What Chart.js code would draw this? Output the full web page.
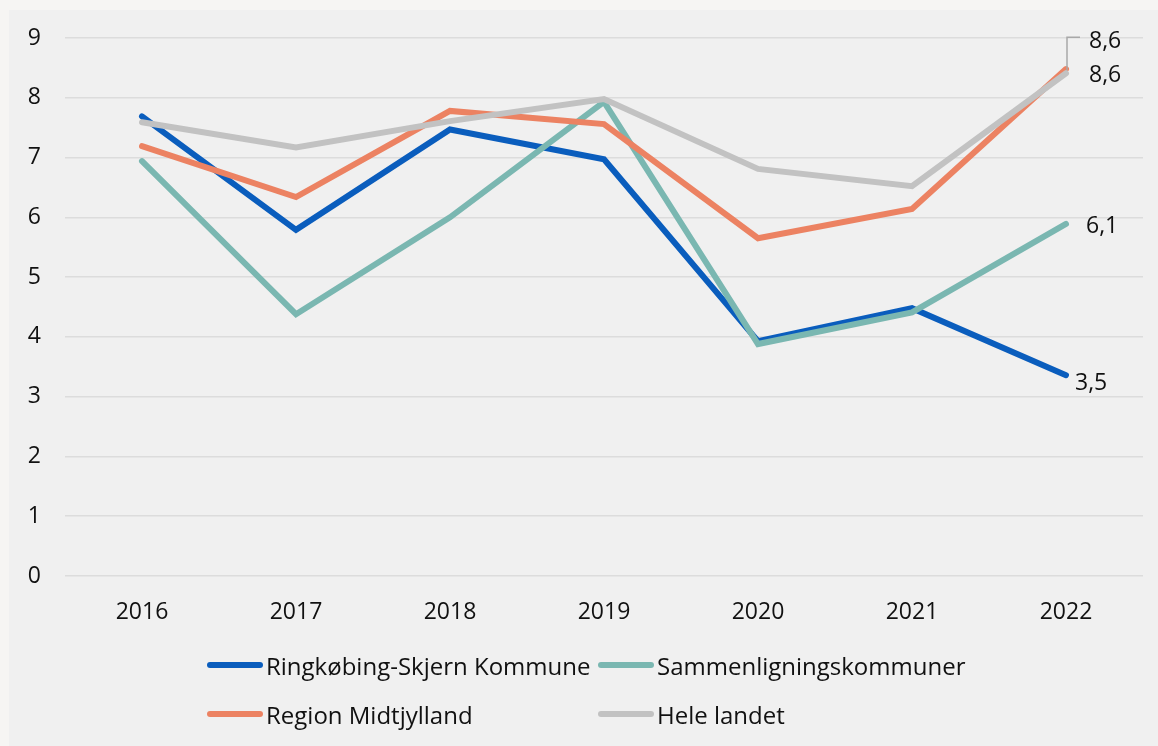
<!DOCTYPE html>
<html>
<head>
<meta charset="utf-8">
<script src="https://cdn.jsdelivr.net/npm/chart.js@4"></script>
<style>
  html, body { margin: 0; padding: 0; background: #f6f5f3; }
  body { width: 1158px; height: 746px; position: relative; overflow: hidden; font-family: "Open Sans", sans-serif; }
  #panel { position: absolute; left: 9px; top: 10px; right: 0; bottom: 0; background: #f0f0f0; }
  #wrap { position: absolute; left: 0; top: 0; width: 1158px; height: 640px; }
  #legend { position: absolute; left: 0; top: 0; width: 1158px; height: 746px; pointer-events: none; }
  .item { position: absolute; display: flex; align-items: center; height: 30px; font-size: 24px; color: #111; white-space: nowrap; }
  .swatch { width: 56px; height: 6px; border-radius: 3px; margin-right: 3px; }
</style>
</head>
<body>
<div id="panel"></div>
<div id="wrap"><canvas id="chart"></canvas></div>
<div id="legend"></div>
<script>
// data
const years = ['2016', '2017', '2018', '2019', '2020', '2021', '2022'];
const ringkobing = [7.69, 5.79, 7.47, 6.97, 3.93, 4.48, 3.36];
const sammenligning = [6.94, 4.38, 6.0, 7.93, 3.88, 4.41, 5.89];
const midtjylland = [7.19, 6.34, 7.78, 7.56, 5.65, 6.14, 8.48];
const heleLandet = [7.59, 7.17, 7.61, 7.98, 6.81, 6.52, 8.41];
const endLabels = ['3,5', '6,1', '8,6', '8,6'];
const yTicks = [0, 1, 2, 3, 4, 5, 6, 7, 8, 9];

const colors = ['#0a5dbd', '#7ab7b1', '#ec8262', '#c2c2c2'];

// where each end label sits relative to its last point
const labelOffsets = [
    { dx: 9, dy: 8 },
    { dx: 20, dy: 3 },
    { dx: 23, dy: 6 },
    { dx: 23, dy: -32, leader: true }
];

Chart.defaults.font.family = '"Open Sans", sans-serif';
Chart.defaults.color = '#111';

const endLabelPlugin = {
    id: 'endLabels',
    afterDatasetsDraw(chart) {
        const ctx = chart.ctx;
        ctx.save();
        ctx.font = '23px "Open Sans", sans-serif';
        ctx.fillStyle = '#111';
        ctx.textAlign = 'left';
        ctx.textBaseline = 'middle';
        chart.data.datasets.forEach(function (ds, i) {
            const meta = chart.getDatasetMeta(i);
            const pt = meta.data[meta.data.length - 1];
            const off = labelOffsets[i];
            const tx = pt.x + off.dx;
            const ty = pt.y + off.dy;
            if (off.leader) {
                ctx.strokeStyle = '#a8a8a8';
                ctx.lineWidth = 1.5;
                ctx.beginPath();
                ctx.moveTo(pt.x + 1, pt.y - 3);
                ctx.lineTo(pt.x + 1, ty - 4);
                ctx.lineTo(pt.x + 14, ty - 4);
                ctx.stroke();
            }
            ctx.fillText(ds.endLabel, tx, ty);
        });
        ctx.restore();
    }
};

const seriesNames = ['Ringkøbing-Skjern Kommune', 'Sammenligningskommuner', 'Region Midtjylland', 'Hele landet'];
const seriesData = [ringkobing, sammenligning, midtjylland, heleLandet];
const drawOrder = [3, 2, 1, 0];

const datasets = seriesNames.map(function (name, i) {
    return {
        label: name,
        data: seriesData[i],
        endLabel: endLabels[i],
        borderColor: colors[i],
        backgroundColor: colors[i],
        borderWidth: 6,
        borderCapStyle: 'round',
        borderJoinStyle: 'miter',
        pointRadius: 0,
        tension: 0,
        fill: false,
        order: drawOrder[i]
    };
});

const ctx = document.getElementById('chart').getContext('2d');
const chart = new Chart(ctx, {
    type: 'line',
    data: { labels: years, datasets: datasets },
    options: {
        responsive: true,
        maintainAspectRatio: false,
        animation: false,
        layout: { padding: { top: 38, right: 15, bottom: 0, left: 9 } },
        plugins: {
            legend: { display: false },
            tooltip: { enabled: false }
        },
        scales: {
            x: {
                offset: true,
                grid: { display: false },
                border: { display: false },
                ticks: { font: { size: 23 }, color: '#111', padding: 15 },
                afterFit: function (scale) { scale.height = 64; }
            },
            y: {
                min: yTicks[0],
                max: yTicks[yTicks.length - 1],
                grid: { color: '#dcdcdc', lineWidth: 1.5, drawTicks: false },
                border: { display: false },
                ticks: { stepSize: 1, font: { size: 23 }, color: '#111', padding: 24 },
                afterFit: function (scale) { scale.width = 56; }
            }
        }
    },
    plugins: [endLabelPlugin]
});

// legend laid out in two columns like the original
const legendPos = [
    { x: 207, y: 650 },
    { x: 598, y: 650 },
    { x: 207, y: 699 },
    { x: 598, y: 699 }
];
const legend = document.getElementById('legend');
chart.data.datasets.forEach(function (ds, i) {
    const item = document.createElement('div');
    item.className = 'item';
    item.style.left = legendPos[i].x + 'px';
    item.style.top = legendPos[i].y + 'px';
    const sw = document.createElement('span');
    sw.className = 'swatch';
    sw.style.background = ds.borderColor;
    const txt = document.createElement('span');
    txt.textContent = ds.label;
    item.appendChild(sw);
    item.appendChild(txt);
    legend.appendChild(item);
});
</script>
</body>
</html>
